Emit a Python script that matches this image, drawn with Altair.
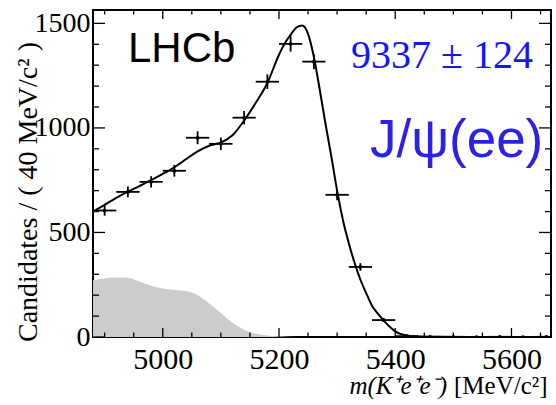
import altair as alt
import pandas as pd

# ---------------- data ----------------
bin_centers = [4900, 4940, 4980, 5020, 5060, 5100, 5140, 5180, 5220, 5260,
               5300, 5340, 5380, 5420, 5460, 5500, 5540, 5580, 5620, 5660]
counts = [605, 694, 742, 795, 953, 924, 1049, 1221, 1402, 1317,
          680, 335, 81, 4, 1, 1, 0, 1, 0, 1]
count_err = [25, 26, 27, 28, 31, 30, 32, 35, 37, 36,
             26, 18, 9, 2, 1, 1, 0, 1, 0, 1]
bin_half_width = 20

fit_m = [4880, 4900, 4920, 4940, 4960, 4980, 5000, 5020, 5040, 5060, 5080, 5100,
         5120, 5140, 5160, 5180, 5200, 5210, 5220, 5230, 5240, 5250, 5260, 5270,
         5280, 5290, 5300, 5310, 5320, 5330, 5340, 5350, 5360, 5370, 5380, 5390,
         5400, 5420, 5440, 5460, 5500, 5560, 5620, 5668]
fit_n = [600, 632, 665, 695, 722, 750, 780, 812, 850, 888, 915, 930,
         965, 1035, 1120, 1215, 1350, 1405, 1445, 1480, 1490, 1450, 1340, 1185,
         1020, 865, 700, 560, 450, 355, 275, 210, 150, 112, 80, 50,
         27, 7, 2, 1, 0, 0, 0, 0]

bkg_m = [4880, 4900, 4920, 4940, 4960, 4980, 5000, 5020, 5040, 5060, 5080, 5100,
         5120, 5140, 5160, 5180, 5200, 5230, 5260]
bkg_n = [272, 280, 284, 283, 265, 245, 232, 225, 220, 200, 160, 115,
         68, 35, 15, 7, 3, 0, 0]

x_label_values = [5000, 5200, 5400, 5600]
y_label_values = [0, 500, 1000, 1500]
x_major_ticks = [5000, 5200, 5400, 5600]
x_minor_ticks = [4900, 4950, 5050, 5100, 5150, 5250, 5300, 5350, 5450, 5500, 5550, 5650]
y_major_ticks = [0, 500, 1000, 1500]
y_minor_ticks = [100, 200, 300, 400, 600, 700, 800, 900, 1100, 1200, 1300, 1400]

# ---------------- layout ----------------
W, H = 458, 327
xs = alt.Scale(domain=[4880, 5668], nice=False, zero=False)
ys = alt.Scale(domain=[0, 1564], nice=False, zero=False)
serif = "Liberation Serif"
sans = "Liberation Sans"

xaxis = alt.Axis(values=x_label_values, format="d", labelFont=serif, labelFontSize=30,
                 labelColor="black", labelPadding=7, ticks=False, tickSize=0,
                 domain=False, grid=False, labelFlush=False, labelOverlap=False)
yaxis = alt.Axis(values=y_label_values, format="d", labelFont=serif, labelFontSize=28,
                 labelColor="black", labelPadding=3, ticks=False, tickSize=0,
                 domain=False, grid=False, labelFlush=False, labelOverlap=False)


def X(f):
    return alt.X(f, type="quantitative", scale=xs, axis=xaxis, title=None)


def Y(f):
    return alt.Y(f, type="quantitative", scale=ys, axis=yaxis, title=None)


pts = pd.DataFrame({"m": bin_centers, "n": counts, "e": count_err})
pts["mlo"] = pts["m"] - bin_half_width
pts["mhi"] = pts["m"] + bin_half_width
pts["nlo"] = pts["n"] - pts["e"]
pts["nhi"] = pts["n"] + pts["e"]

fit = pd.DataFrame({"m": fit_m, "n": fit_n})
bkg = pd.DataFrame({"m": bkg_m, "n": bkg_n})

area = alt.Chart(bkg).mark_area(color="#cccccc", interpolate="monotone", clip=True).encode(
    x=X("m"), y=Y("n"))
line = alt.Chart(fit).mark_line(color="black", strokeWidth=2, interpolate="monotone", clip=True).encode(
    x=X("m"), y=Y("n"))
herr = alt.Chart(pts).mark_rule(color="black", strokeWidth=1.8, clip=True).encode(
    x=X("mlo"), x2="mhi", y=Y("n"))
verr = alt.Chart(pts).mark_rule(color="black", strokeWidth=1.8, clip=True).encode(
    x=X("m"), y=Y("nlo"), y2="nhi")
dots = alt.Chart(pts).mark_circle(color="black", size=14, opacity=1, clip=True).encode(
    x=X("m"), y=Y("n"))

# ticks (inward, ROOT style)
xmaj = pd.DataFrame({"m": x_major_ticks})
xmin = pd.DataFrame({"m": x_minor_ticks})
ymaj = pd.DataFrame({"n": y_major_ticks})
ymin = pd.DataFrame({"n": y_minor_ticks})

tick_layers = []
for df, ln in [(xmaj, 9), (xmin, 4.5)]:
    tick_layers.append(alt.Chart(df).mark_rule(color="black", strokeWidth=1.3).encode(
        x=X("m"), y=alt.value(H), y2=alt.value(H - ln)))
    tick_layers.append(alt.Chart(df).mark_rule(color="black", strokeWidth=1.3).encode(
        x=X("m"), y=alt.value(0), y2=alt.value(ln)))
for df, ln in [(ymaj, 12), (ymin, 6)]:
    tick_layers.append(alt.Chart(df).mark_rule(color="black", strokeWidth=1.3).encode(
        y=Y("n"), x=alt.value(0), x2=alt.value(ln)))
    tick_layers.append(alt.Chart(df).mark_rule(color="black", strokeWidth=1.3).encode(
        y=Y("n"), x=alt.value(W), x2=alt.value(W - ln)))

one = pd.DataFrame({"a": [0]})


def label(text, x, y, **kw):
    return alt.Chart(one).mark_text(text=text, **kw).encode(x=alt.value(x), y=alt.value(y))


texts = [
    label("LHCb", 35, 52, font=sans, fontSize=42, align="left", baseline="alphabetic", color="black"),
    label("9337 ± 124", 349, 58, font=serif, fontSize=40, align="center",
          baseline="alphabetic", color="#1414ff"),
    label("J/ψ(ee)", 277, 147, font=sans, fontSize=53, align="left", baseline="alphabetic",
          color="#2a22e6"),
    label("Candidates / ( 40 MeV/c² )", -56, 332, font=serif, fontSize=28, angle=270,
          align="left", baseline="alphabetic", color="black"),
    label("m(K⁺e⁺e⁻)", 354, 384, font=serif, fontSize=25, fontStyle="italic",
          align="right", baseline="alphabetic", color="black"),
    label("[MeV/c²]", 361, 384, font=serif, fontSize=25, align="left",
          baseline="alphabetic", color="black"),
]

chart = alt.layer(area, line, herr, verr, dots, *tick_layers, *texts).properties(
    width=W, height=H,
    autosize="none",
    padding={"left": 93, "top": 10, "right": 5, "bottom": 68},
    background="white",
).configure_view(stroke="black", strokeWidth=2)

chart.save("out.html", embed_options={"renderer": "svg", "actions": False})
